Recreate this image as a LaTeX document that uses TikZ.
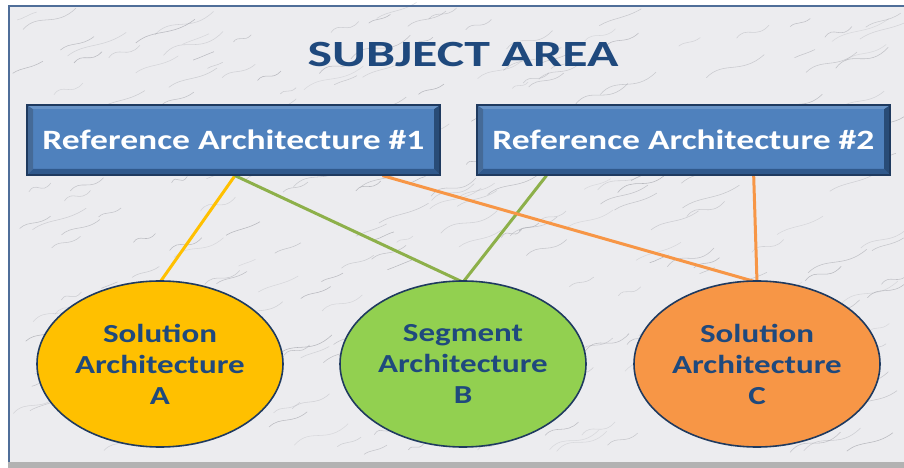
\documentclass[tikz,border=0pt]{standalone}
\usepackage{fontspec}
\setmainfont{Carlito}
\newfontfamily\titlefont[FakeStretch=1.4]{Carlito}
\newfontfamily\archfont[FakeStretch=1.27]{Carlito}
\usepackage{tikz}
\usetikzlibrary{shapes.geometric}

\definecolor{titleblue}{HTML}{1F497D}
\definecolor{refblue}{HTML}{4F81BD}
\definecolor{refedge}{HTML}{1F3A5F}
\definecolor{refdark}{HTML}{30598C}
\definecolor{solyellow}{HTML}{FFC000}
\definecolor{seggreen}{HTML}{92D050}
\definecolor{solorange}{HTML}{F79646}
\definecolor{linkgreen}{HTML}{8DB04A}
\definecolor{marble}{HTML}{ECECEF}
\definecolor{vein}{HTML}{A0A1A8}
\definecolor{framblue}{HTML}{4F6E99}

\pgfdeclarelayer{marblelayer}
\pgfdeclarelayer{linklayer}
\pgfsetlayers{marblelayer,linklayer,main}

\begin{document}
\begin{tikzpicture}[
  x=1pt, y=1pt,
  refbox/.style={rectangle, fill=refblue, draw=refedge, line width=1.2pt,
    minimum width=413pt, minimum height=70pt, inner sep=0pt,
    text=white, font=\archfont\fontsize{28}{32}\selectfont\bfseries,
    path picture={
      \fill[refdark] (path picture bounding box.south west)
        -- ([xshift=6pt,yshift=6pt]path picture bounding box.south west)
        -- ([xshift=-6pt,yshift=6pt]path picture bounding box.south east)
        -- (path picture bounding box.south east) -- cycle;
      \fill[refdark!85!black] (path picture bounding box.south east)
        -- ([xshift=-6pt,yshift=6pt]path picture bounding box.south east)
        -- ([xshift=-6pt,yshift=-4pt]path picture bounding box.north east)
        -- (path picture bounding box.north east) -- cycle;
      \fill[refdark!90] (path picture bounding box.south west)
        -- ([xshift=6pt,yshift=6pt]path picture bounding box.south west)
        -- ([xshift=6pt,yshift=-4pt]path picture bounding box.north west)
        -- (path picture bounding box.north west) -- cycle;
      \fill[refblue!85!white] (path picture bounding box.north west)
        -- ([xshift=6pt,yshift=-4pt]path picture bounding box.north west)
        -- ([xshift=-6pt,yshift=-4pt]path picture bounding box.north east)
        -- (path picture bounding box.north east) -- cycle;
    }},
  archoval/.style={ellipse, draw=refedge, line width=1.6pt,
    minimum width=246pt, minimum height=166pt, inner sep=0pt,
    text=titleblue, align=center,
    font=\archfont\fontsize{26}{31}\selectfont\bfseries},
  link/.style={line width=3pt}
]
  \useasboundingbox (0,0) rectangle (904,468);

  %% Marble background
  \begin{pgfonlayer}{marblelayer}
    \fill[white] (0,0) rectangle (904,468);
    \fill[gray!60] (8,0) rectangle (904,6);
    \fill[marble] (8,6) rectangle (904,462);
    \pgfmathsetseed{11}
    \foreach \i in {1,...,300} {
      \pgfmathsetmacro{\vx}{12+rnd*870}
      \pgfmathsetmacro{\vy}{10+rnd*440}
      \pgfmathsetmacro{\vl}{15+rnd*45}
      \pgfmathsetmacro{\vw}{rnd*10-5}
      \pgfmathsetmacro{\vo}{0.25+rnd*0.45}
      \draw[vein, opacity=\vo, line width=0.55pt]
        (\vx,\vy) .. controls (\vx+0.3*\vl,\vy+0.3*\vl+\vw)
        and (\vx+0.6*\vl,\vy+0.05*\vl-\vw) .. (\vx+\vl,\vy+0.4*\vl);
    }
    \draw[framblue, line width=2pt] (9,6) -- (9,462) -- (904,462);
  \end{pgfonlayer}

  %% Title
  \node[text=titleblue, font=\titlefont\fontsize{37}{40}\selectfont\bfseries] (title) at (463,413) {SUBJECT AREA};

  %% Reference architectures
  \node[refbox] (ref1) at (233.5,328) {Reference Architecture \#1};
  \node[refbox] (ref2) at (683.5,328) {Reference Architecture \#2};

  %% Architectures
  \node[archoval, fill=solyellow] (solA) at (160,104) {Solution\\Architecture\\A};
  \node[archoval, fill=seggreen] (segB) at (463,104) {Segment\\Architecture\\B};
  \node[archoval, fill=solorange] (solC) at (757,104) {Solution\\Architecture\\C};

  %% Links
  \begin{pgfonlayer}{linklayer}
    \draw[link, solyellow] ([xshift=1.5pt]ref1.south) -- ([yshift=-2pt]solA.north);
    \draw[link, linkgreen] ([xshift=1.5pt]ref1.south) -- ([yshift=-2pt]segB.north);
    \draw[link, linkgreen] ([xshift=-137pt]ref2.south) -- ([yshift=-2pt]segB.north);
    \draw[link, solorange] ([xshift=149pt]ref1.south) -- ([yshift=-2pt]solC.north);
    \draw[link, solorange] ([xshift=70pt,yshift=6pt]ref2.south) -- ([yshift=-2pt]solC.north);
  \end{pgfonlayer}
\end{tikzpicture}
\end{document}
